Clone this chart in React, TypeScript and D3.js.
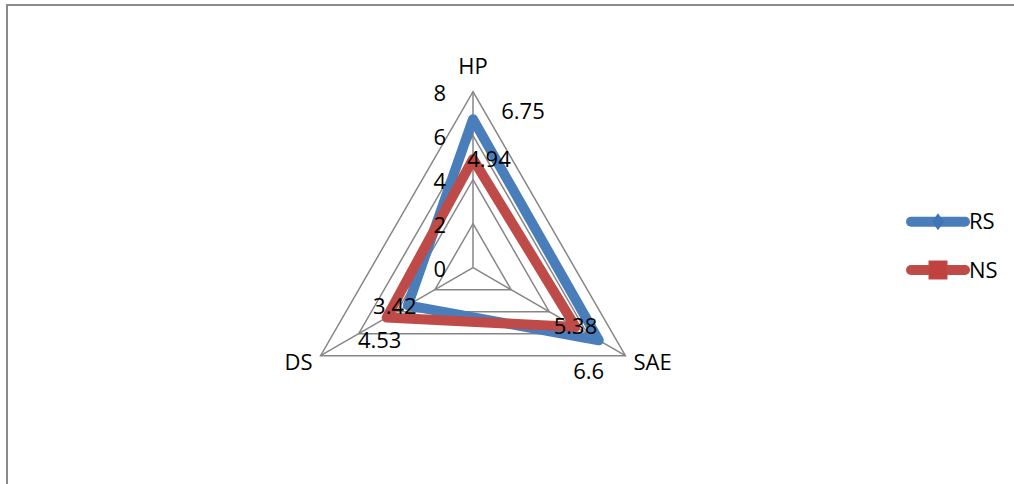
import React from "react";
import * as d3 from "d3";

const axes = ["HP", "SAE", "DS"];
const rsValues = [6.75, 6.6, 3.42];
const nsValues = [4.94, 5.38, 4.53];
const tickValues = [0, 2, 4, 6, 8];
const seriesNames = ["RS", "NS"];

const W = 1014;
const H = 484;
const cx = 473;
const cy = 267.7;
const R = 176;
const FONT = "'Open Sans', sans-serif";
const FS = 22;
const BLUE = "#4A7EBB";
const RED = "#BE4B48";
const GRID = "#868686";

// label offsets (styling), per series, per axis
const rsLabelOffsets = [[50, -7.5], [-10, 31], [-13, 1]];
const nsLabelOffsets = [[16, 0], [0, -1], [-7, 22.5]];

export default function App() {
  const r = d3.scaleLinear().domain([0, 8]).range([0, R]);
  const angle = d3.scaleLinear().domain([0, axes.length]).range([0, 2 * Math.PI]);
  const pt = (i: number, v: number): [number, number] => {
    const a = angle(i);
    return [cx + r(v) * Math.sin(a), cy - r(v) * Math.cos(a)];
  };
  const radial = d3
    .lineRadial<number>()
    .angle((_, i) => angle(i))
    .radius((d) => r(d))
    .curve(d3.curveLinearClosed);

  const series = [
    { name: seriesNames[0], values: rsValues, color: BLUE, offsets: rsLabelOffsets },
    { name: seriesNames[1], values: nsValues, color: RED, offsets: nsLabelOffsets },
  ];

  const axisLabelPos = [
    { x: cx, y: pt(0, 8)[1] - 25, anchor: "middle" },
    { x: pt(1, 8)[0] + 8, y: pt(1, 8)[1] + 7, anchor: "start" },
    { x: pt(2, 8)[0] - 8, y: pt(2, 8)[1] + 7, anchor: "end" },
  ];

  return (
    <svg width={W} height={H} style={{ position: "absolute", left: 0, top: 0, background: "#fff" }}>
      <rect x={7} y={5} width={1020} height={500} fill="#fff" stroke="#8a8a8a" strokeWidth={2} />
      <g>
        {tickValues
          .filter((t) => t > 0)
          .map((t) => (
            <path
              key={t}
              d={radial(axes.map(() => t)) || ""}
              transform={`translate(${cx},${cy})`}
              fill="none"
              stroke={GRID}
              strokeWidth={1.5}
            />
          ))}
        {axes.map((a, i) => {
          const [x, y] = pt(i, 8);
          return <line key={a} x1={cx} y1={cy} x2={x} y2={y} stroke={GRID} strokeWidth={1.5} />;
        })}
      </g>
      {series.map((s) => (
        <path
          key={s.name}
          d={radial(s.values) || ""}
          transform={`translate(${cx},${cy})`}
          fill="none"
          stroke={s.color}
          strokeWidth={10}
          strokeLinejoin="round"
        />
      ))}
      {tickValues.map((t) => (
        <text
          key={t}
          x={cx - 27}
          y={cy - r(t) + 2}
          dy="0.35em"
          textAnchor="end"
          fontFamily={FONT}
          fontSize={FS}
          fill="#000"
        >
          {t}
        </text>
      ))}
      {axes.map((a, i) => (
        <text
          key={a}
          x={axisLabelPos[i].x}
          y={axisLabelPos[i].y}
          dy="0.35em"
          textAnchor={axisLabelPos[i].anchor as any}
          fontFamily={FONT}
          fontSize={FS}
          fill="#000"
        >
          {a}
        </text>
      ))}
      {series.map((s) =>
        s.values.map((v, i) => {
          const [x, y] = pt(i, v);
          return (
            <text
              key={s.name + i}
              x={x + s.offsets[i][0]}
              y={y + s.offsets[i][1]}
              dy="0.35em"
              textAnchor="middle"
              fontFamily={FONT}
              fontSize={FS}
              fill="#000"
            >
              {v}
            </text>
          );
        })
      )}
      {series.map((s, k) => {
        const y = 221.7 + k * 48.3;
        return (
          <g key={s.name}>
            <line x1={911} x2={965} y1={y} y2={y} stroke={s.color} strokeWidth={10} strokeLinecap="round" />
            {k === 0 ? (
              <path
                d={`M938,${y - 8.5} L944,${y} L938,${y + 8.5} L932,${y} Z`}
                fill="#3F74B5"
              />
            ) : (
              <rect x={929} y={y - 9} width={18} height={18} fill="#C0413E" stroke={s.color} strokeWidth={1} />
            )}
            <text x={969} y={y} dy="0.35em" fontFamily={FONT} fontSize={FS} fill="#000">
              {s.name}
            </text>
          </g>
        );
      })}
    </svg>
  );
}
